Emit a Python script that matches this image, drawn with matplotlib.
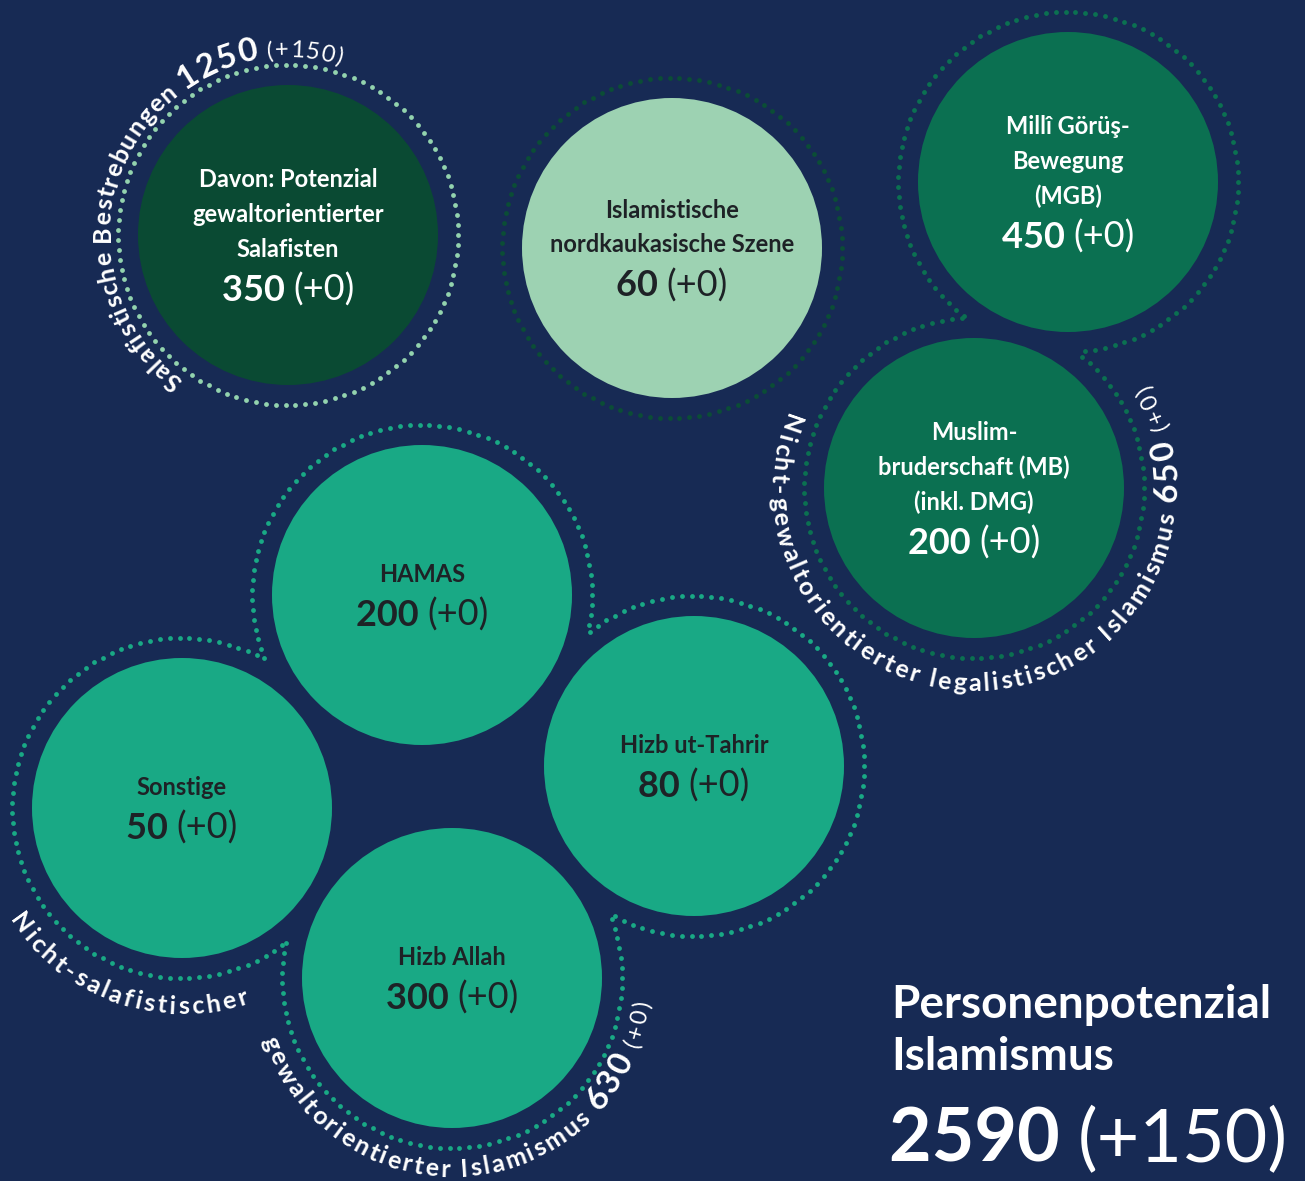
import numpy as np
import matplotlib
matplotlib.use("Agg")
import matplotlib.pyplot as plt
from matplotlib.patches import Circle
from matplotlib.path import Path
from matplotlib.font_manager import FontProperties
from matplotlib.textpath import TextToPath

# data
labels = ["Davon: Potenzial\ngewaltorientierter\nSalafisten",
          "Islamistische\nnordkaukasische Szene",
          "Millî Görüş-\nBewegung\n(MGB)",
          "Muslim-\nbruderschaft (MB)\n(inkl. DMG)",
          "HAMAS",
          "Hizb ut-Tahrir",
          "Sonstige",
          "Hizb Allah"]
values = [350, 60, 450, 200, 200, 80, 50, 300]
changes = [0, 0, 0, 0, 0, 0, 0, 0]

group_names = ["Salafistische Bestrebungen",
               "Nicht-gewaltorientierter legalistischer Islamismus",
               "Nicht-salafistischer gewaltorientierter Islamismus"]
group_values = [1250, 650, 630]
group_changes = [150, 0, 0]

total_title = "Personenpotenzial\nIslamismus"
total_value = 2590
total_change = 150

# layout (pixels, y down)
W, H, DPI = 1305, 1181, 100
centers = [(288, 235), (672, 248), (1068, 182), (974, 488),
           (422, 595), (694, 766), (182, 808), (452, 978)]
R, RING = 150, 170
BG = "#172a54"
fills = ["#0a4a33", "#9dd2b2", "#0b7051", "#0b7051",
         "#19a985", "#19a985", "#19a985", "#19a985"]
txt_cols = ["white", "#1e2226", "white", "white",
            "#1e2226", "#1e2226", "#1e2226", "#1e2226"]
groups = [[0], [1], [2, 3], [4, 5, 7, 6]]
ring_cols = ["#93d3ae", "#0b4d36", "#0b7051", "#19a985"]
FONT = "Lato"
LIGHT = "normal"

fig = plt.figure(figsize=(W / DPI, H / DPI), dpi=DPI, facecolor=BG)
ax = fig.add_axes([0, 0, 1, 1])
ax.set_xlim(0, W)
ax.set_ylim(H, 0)
ax.axis("off")

_ttp = TextToPath()


def adv(s, size, weight):
    prop = FontProperties(family=FONT, size=size, weight=weight)
    w1 = _ttp.get_text_width_height_descent(s + "|", prop, ismath=False)[0]
    w0 = _ttp.get_text_width_height_descent("|", prop, ismath=False)[0]
    return (w1 - w0) * DPI / 72


# dotted rings (outer outline of each group)
for g, col in zip(groups, ring_cols):
    cs = [centers[i] for i in g]
    poly = Path(cs + [cs[0]]) if len(cs) > 2 else None
    for cx, cy in cs:
        n = int(round(2 * np.pi * RING / 10))
        t = np.linspace(0, 2 * np.pi, n, endpoint=False)
        x = cx + RING * np.cos(t)
        y = cy + RING * np.sin(t)
        keep = np.ones(n, bool)
        for ox, oy in cs:
            if (ox, oy) != (cx, cy):
                keep &= np.hypot(x - ox, y - oy) > RING
        if poly is not None:
            keep &= ~poly.contains_points(np.column_stack([x, y]))
        ax.scatter(x[keep], y[keep], s=12, color=col, linewidths=0, zorder=1)

# circles and inner text
for i, (cx, cy) in enumerate(centers):
    ax.add_patch(Circle((cx, cy), R, color=fills[i], zorder=2, lw=0))
    lines = labels[i].split("\n")
    n = len(lines)
    first = cy + 9 - (35 * (n - 1) + 44) / 2
    for k, ln in enumerate(lines):
        ax.text(cx, first + 35 * k, ln, ha="center", va="baseline",
                fontsize=17, fontweight="bold", family=FONT,
                color=txt_cols[i], zorder=3)
    num = f"{values[i]} "
    chg = f"(+{changes[i]})"
    w1 = adv(num, 26, "bold")
    w2 = adv(chg, 26, LIGHT)
    x0 = cx - (w1 + w2) / 2
    yb = first + 35 * (n - 1) + 44
    ax.text(x0, yb, num, ha="left", va="baseline", fontsize=26,
            fontweight="bold", family=FONT, color=txt_cols[i], zorder=3)
    ax.text(x0 + w1, yb, chg, ha="left", va="baseline", fontsize=26,
            fontweight=LIGHT, family=FONT, color=txt_cols[i], zorder=3)


def arc_text(cx, cy, r, a0, a1, segments):
    ccw = a1 > a0
    chars = []
    for s, size, weight in segments:
        for ch in s:
            chars.append((ch, size, weight, adv(ch, size, weight)))
    natural = sum(c[3] for c in chars)
    arc = np.radians(abs(a1 - a0)) * r
    extra = (arc - natural) / (len(chars) - 1)
    pos = 0
    for ch, size, weight, w in chars:
        mid = pos + w / 2
        th = a0 + (1 if ccw else -1) * np.degrees(mid / r)
        x = cx + r * np.cos(np.radians(th))
        y = cy - r * np.sin(np.radians(th))
        rot = th + 90 if ccw else th - 90
        ax.text(x, y, ch, rotation=rot, rotation_mode="anchor",
                ha="center", va="baseline", fontsize=size,
                fontweight=weight, family=FONT, color="white", zorder=4)
        pos += w + extra


# group labels along the rings
arc_text(*centers[0], 178, 234, 73,
         [(group_names[0] + " ", 18, "bold"),
          (str(group_values[0]), 24, "bold"),
          (f" (+{group_changes[0]})", 17, LIGHT)])
arc_text(*centers[3], 203, 158, 391,
         [(group_names[1] + " ", 18, "bold"),
          (str(group_values[1]), 24, "bold"),
          (f" (+{group_changes[1]})", 17, LIGHT)])
part_a, part_b = group_names[2].split(" ", 1)
arc_text(*centers[6], 206, 213, 289, [(part_a, 18, "bold")])
arc_text(*centers[7], 199, 198, 353,
         [(part_b + " ", 18, "bold"),
          (str(group_values[2]), 24, "bold"),
          (f" (+{group_changes[2]})", 17, LIGHT)])

# total
t1, t2 = total_title.split("\n")
ax.text(891, 1018, t1, ha="left", va="baseline", fontsize=33,
        fontweight="bold", family=FONT, color="white")
ax.text(891, 1070, t2, ha="left", va="baseline", fontsize=33,
        fontweight="bold", family=FONT, color="white")
num = f"{total_value} "
wn = adv(num, 53, "bold")
ax.text(889, 1162, num, ha="left", va="baseline", fontsize=53,
        fontweight="bold", family=FONT, color="white")
ax.text(889 + wn, 1162, f"(+{total_change})", ha="left", va="baseline",
        fontsize=53, fontweight=LIGHT, family=FONT, color="white")

fig.savefig("out.png", dpi=DPI, facecolor=BG)
